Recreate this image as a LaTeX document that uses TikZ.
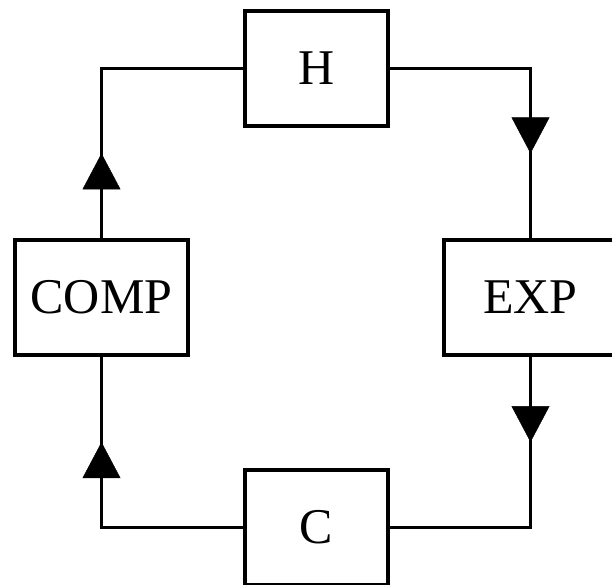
\documentclass[tikz,border=0pt]{standalone}
\usepackage{fontspec}
\setmainfont{Liberation Serif}
\usetikzlibrary{positioning}
\usetikzlibrary{arrows.meta}
\usetikzlibrary{decorations.markings}
\tikzset{
        unit/.style={rectangle, draw=black, line width=3.5pt, inner sep=0pt, minimum height=115pt, font=\fontsize{50}{60}\selectfont},
        % Heat exchangers
        unit_hx/.style={unit, minimum width=143pt},
        % Compressor and expansion valve
        unit_wide/.style={unit, minimum width=173pt},
        % Piping
        pipe/.style={line width=3.5pt},
        % Flow direction, halfway along a pipe
        flow/.style={postaction={decorate}, decoration={markings, mark=at position 0.5 with {\arrow{Triangle[width=38pt,length=36pt]}}}}
}
\begin{document}
\begin{tikzpicture}[x=1pt, y=-1pt]
            \useasboundingbox (0,0) rectangle (612,584);
            \node[unit_hx] (H) at (316.5,68.5) {H};
            \node[unit_wide] (EXP) at (530.5,297.5) {EXP};
            \node[unit_hx] (C) at (316.5,527.5) {C};
            \node[unit_wide] (COMP) at (101.5,297.5) {COMP};
            % corners of the loop
            \coordinate (ne) at (EXP.north |- H.east);
            \coordinate (se) at (EXP.south |- C.east);
            \coordinate (sw) at (COMP.south |- C.west);
            \coordinate (nw) at (COMP.north |- H.west);
            \draw[pipe] (H.east) -- (ne) -- (EXP.north);
            \draw[pipe] (EXP.south) -- (se) -- (C.east);
            \draw[pipe] (C.west) -- (sw) -- (COMP.south);
            \draw[pipe] (COMP.north) -- (nw) -- (H.west);
            \path[flow] (ne) -- (EXP.north);
            \path[flow] (EXP.south) -- (se);
            \path[flow] (sw) -- (COMP.south);
            \path[flow] (COMP.north) -- (nw);
\end{tikzpicture}
\end{document}
